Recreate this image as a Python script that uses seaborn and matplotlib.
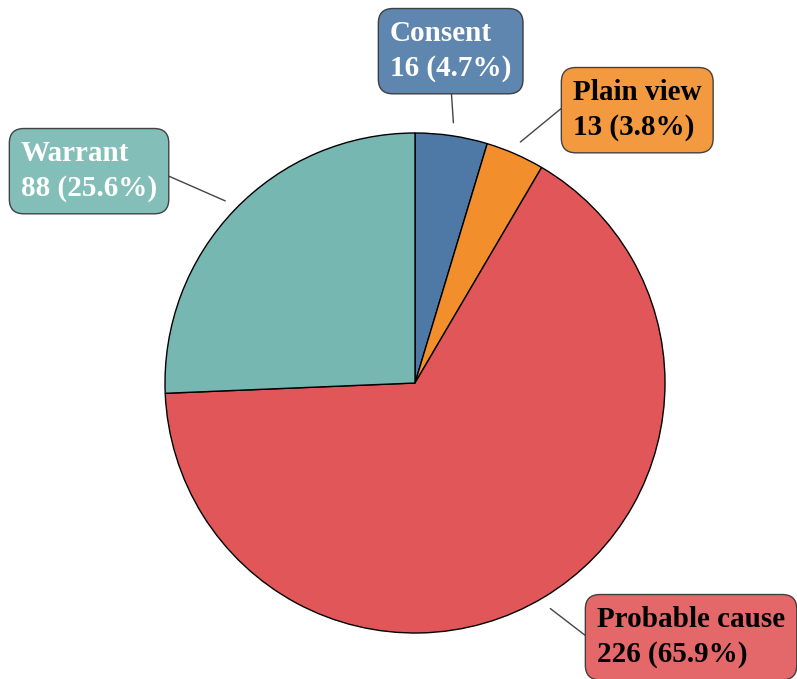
import numpy as np
import matplotlib
matplotlib.use('Agg')
import matplotlib.pyplot as plt
import seaborn as sns

# ------------------- Data -------------------
labels = ['Consent', 'Plain view', 'Probable cause', 'Warrant']
counts = [16, 13, 226, 88]
pct_labels = ['4.7%', '3.8%', '65.9%', '25.6%']
colors = ['#4e79a7', '#f28e2b', '#e15759', '#76b7b2']
text_colors = ['white', 'black', 'black', 'white']

# label text anchor (left edge, vertical centre) in pixel coords, y from top
label_pos = [(390, 51), (573, 110), (597, 637), (21, 171)]
# where the leader line attaches on the label box
rel_pos = [(0.5, 0.0), (0.0, 0.68), (0.0, 0.38), (1.0, 0.5)]

sns.set_theme(style='white')
plt.rcParams['font.family'] = ['Liberation Serif', 'DejaVu Serif']

W, H = 797, 679
fig = plt.figure(figsize=(W / 100, H / 100), dpi=100)
ax = fig.add_axes([0, 0, 1, 1])

cx, cy, r = 415, H - 383, 250
ax.pie(counts, colors=colors, startangle=90, counterclock=False,
       center=(cx, cy), radius=r, frame=True,
       wedgeprops=dict(edgecolor='black', linewidth=1))
ax.set_xlim(0, W)
ax.set_ylim(0, H)
ax.set_aspect('equal')
ax.axis('off')

# ------------------- Labels with leader lines -------------------
total = sum(counts)
cum = np.cumsum([0] + counts)
for i, lab in enumerate(labels):
    mid = (cum[i] + counts[i] / 2) / total * 360
    theta = np.deg2rad(90 - mid)
    px = cx + 263 * np.cos(theta)
    py = cy + 263 * np.sin(theta)
    tx, ty = label_pos[i]
    ax.annotate(f'{lab}\n{counts[i]} ({pct_labels[i]})',
                xy=(px, py), xytext=(tx, H - ty),
                ha='left', va='center', fontsize=21, fontweight='bold',
                color=text_colors[i], linespacing=1.38,
                bbox=dict(boxstyle='round,pad=0.4,rounding_size=0.5',
                          fc=colors[i], ec='#333333', alpha=0.9, lw=1),
                arrowprops=dict(arrowstyle='-', color='#444444', lw=1,
                                shrinkA=0, shrinkB=0, relpos=rel_pos[i]),
                annotation_clip=False)

fig.savefig('out.png', dpi=100)
